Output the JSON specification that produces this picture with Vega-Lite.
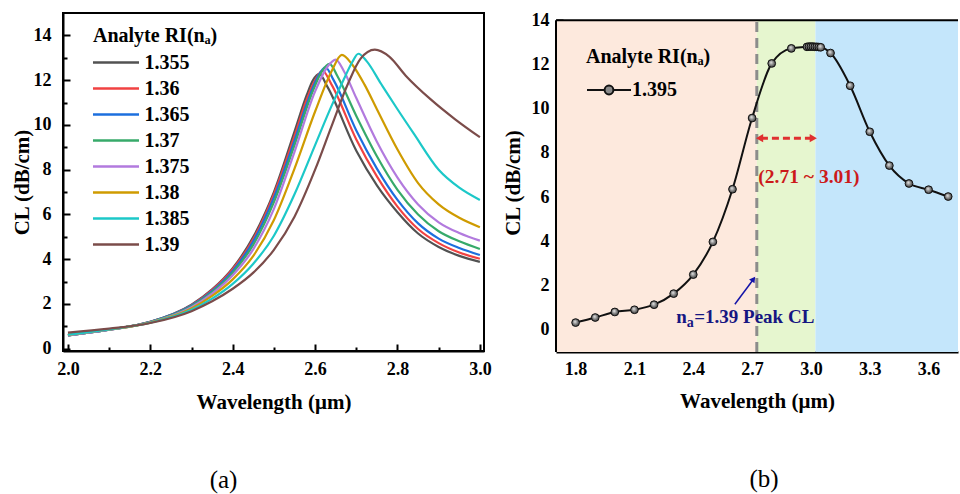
{
  "$schema": "https://vega.github.io/schema/vega-lite/v6.json",
  "padding": {"left": 10, "top": 11, "right": 0, "bottom": 0},
  "background": "white",
  "config": {
    "font": "Liberation Serif",
    "axis": {"labelFont": "Liberation Serif", "labelFontWeight": "bold", "labelFontSize": 18, "labelColor": "black", "titleFont": "Liberation Serif", "titleFontWeight": "bold", "titleFontSize": 21, "titleColor": "black", "domainColor": "black", "domainWidth": 2, "tickColor": "black", "tickWidth": 2, "grid": false, "labelFlush": false, "labelOverlap": false},
    "legend": {"padding": 0, "titleFont": "Liberation Serif", "titleFontWeight": "bold", "titleFontSize": 20, "titleColor": "black", "labelFont": "Liberation Serif", "labelFontWeight": "bold", "labelFontSize": 20, "labelColor": "black", "titleLimit": 300},
    "view": {"stroke": "black", "strokeWidth": 2},
    "concat": {"spacing": 9},
    "title": {"font": "Liberation Serif", "fontWeight": "normal", "fontSize": 25, "color": "black"}
  },
  "datasets": {
    "b": [
      {"s": "1.395", "w": 1.8, "cl": 0.33}, {"s": "1.395", "w": 1.9, "cl": 0.56}, {"s": "1.395", "w": 2.0, "cl": 0.81}, {"s": "1.395", "w": 2.1, "cl": 0.91}, {"s": "1.395", "w": 2.2, "cl": 1.14}, {"s": "1.395", "w": 2.3, "cl": 1.64}, {"s": "1.395", "w": 2.4, "cl": 2.5}, {"s": "1.395", "w": 2.5, "cl": 3.98}, {"s": "1.395", "w": 2.6, "cl": 6.36}, {"s": "1.395", "w": 2.7, "cl": 9.58}, {"s": "1.395", "w": 2.8, "cl": 12.05}, {"s": "1.395", "w": 2.9, "cl": 12.73}, {"s": "1.395", "w": 2.98, "cl": 12.8}, {"s": "1.395", "w": 2.99, "cl": 12.81}, {"s": "1.395", "w": 3.0, "cl": 12.81}, {"s": "1.395", "w": 3.01, "cl": 12.81}, {"s": "1.395", "w": 3.02, "cl": 12.8}, {"s": "1.395", "w": 3.03, "cl": 12.8}, {"s": "1.395", "w": 3.04, "cl": 12.79}, {"s": "1.395", "w": 3.05, "cl": 12.78}, {"s": "1.395", "w": 3.1, "cl": 12.52}, {"s": "1.395", "w": 3.2, "cl": 11.04}, {"s": "1.395", "w": 3.3, "cl": 8.96}, {"s": "1.395", "w": 3.4, "cl": 7.43}, {"s": "1.395", "w": 3.5, "cl": 6.62}, {"s": "1.395", "w": 3.6, "cl": 6.34}, {"s": "1.395", "w": 3.7, "cl": 6.03}
    ],
    "note": [{"x": 2.405, "y": 0.6, "n": "n", "sub": "a", "t": "=1.39 Peak CL"}]
  },
  "resolve": {"scale": {"color": "independent", "stroke": "independent"}, "legend": {"color": "independent", "stroke": "independent"}},
  "hconcat": [
    {
      "width": 421,
      "height": 338,
      "title": {"text": "(a)", "orient": "bottom", "offset": 56, "dx": -50},
      "data": {"values": [
        {"na": "1.355", "w": 2.0, "cl": 0.6}, {"na": "1.355", "w": 2.1, "cl": 0.85}, {"na": "1.355", "w": 2.2, "cl": 1.2}, {"na": "1.355", "w": 2.3, "cl": 1.97}, {"na": "1.355", "w": 2.35, "cl": 2.65}, {"na": "1.355", "w": 2.4, "cl": 3.6}, {"na": "1.355", "w": 2.45, "cl": 5.0}, {"na": "1.355", "w": 2.5, "cl": 7.0}, {"na": "1.355", "w": 2.55, "cl": 9.7}, {"na": "1.355", "w": 2.58, "cl": 11.35}, {"na": "1.355", "w": 2.595, "cl": 12.0}, {"na": "1.355", "w": 2.61, "cl": 12.28}, {"na": "1.355", "w": 2.63, "cl": 11.7}, {"na": "1.355", "w": 2.7, "cl": 8.85}, {"na": "1.355", "w": 2.75, "cl": 7.3}, {"na": "1.355", "w": 2.8, "cl": 6.1}, {"na": "1.355", "w": 2.85, "cl": 5.15}, {"na": "1.355", "w": 2.9, "cl": 4.55}, {"na": "1.355", "w": 2.95, "cl": 4.15}, {"na": "1.355", "w": 3.0, "cl": 3.88},
        {"na": "1.36", "w": 2.0, "cl": 0.6}, {"na": "1.36", "w": 2.1, "cl": 0.85}, {"na": "1.36", "w": 2.2, "cl": 1.2}, {"na": "1.36", "w": 2.3, "cl": 1.95}, {"na": "1.36", "w": 2.35, "cl": 2.62}, {"na": "1.36", "w": 2.4, "cl": 3.55}, {"na": "1.36", "w": 2.45, "cl": 4.9}, {"na": "1.36", "w": 2.5, "cl": 6.9}, {"na": "1.36", "w": 2.55, "cl": 9.5}, {"na": "1.36", "w": 2.58, "cl": 11.15}, {"na": "1.36", "w": 2.6, "cl": 12.0}, {"na": "1.36", "w": 2.618, "cl": 12.42}, {"na": "1.36", "w": 2.64, "cl": 11.8}, {"na": "1.36", "w": 2.7, "cl": 9.35}, {"na": "1.36", "w": 2.75, "cl": 7.7}, {"na": "1.36", "w": 2.8, "cl": 6.35}, {"na": "1.36", "w": 2.85, "cl": 5.35}, {"na": "1.36", "w": 2.9, "cl": 4.72}, {"na": "1.36", "w": 2.95, "cl": 4.3}, {"na": "1.36", "w": 3.0, "cl": 4.02},
        {"na": "1.365", "w": 2.0, "cl": 0.6}, {"na": "1.365", "w": 2.1, "cl": 0.85}, {"na": "1.365", "w": 2.2, "cl": 1.2}, {"na": "1.365", "w": 2.3, "cl": 1.93}, {"na": "1.365", "w": 2.35, "cl": 2.58}, {"na": "1.365", "w": 2.4, "cl": 3.48}, {"na": "1.365", "w": 2.45, "cl": 4.8}, {"na": "1.365", "w": 2.5, "cl": 6.75}, {"na": "1.365", "w": 2.55, "cl": 9.3}, {"na": "1.365", "w": 2.58, "cl": 10.95}, {"na": "1.365", "w": 2.605, "cl": 12.1}, {"na": "1.365", "w": 2.625, "cl": 12.57}, {"na": "1.365", "w": 2.645, "cl": 12.0}, {"na": "1.365", "w": 2.7, "cl": 9.75}, {"na": "1.365", "w": 2.75, "cl": 8.05}, {"na": "1.365", "w": 2.8, "cl": 6.65}, {"na": "1.365", "w": 2.85, "cl": 5.6}, {"na": "1.365", "w": 2.9, "cl": 4.92}, {"na": "1.365", "w": 2.95, "cl": 4.5}, {"na": "1.365", "w": 3.0, "cl": 4.19},
        {"na": "1.37", "w": 2.0, "cl": 0.6}, {"na": "1.37", "w": 2.1, "cl": 0.85}, {"na": "1.37", "w": 2.2, "cl": 1.19}, {"na": "1.37", "w": 2.3, "cl": 1.9}, {"na": "1.37", "w": 2.35, "cl": 2.53}, {"na": "1.37", "w": 2.4, "cl": 3.4}, {"na": "1.37", "w": 2.45, "cl": 4.65}, {"na": "1.37", "w": 2.5, "cl": 6.55}, {"na": "1.37", "w": 2.55, "cl": 9.1}, {"na": "1.37", "w": 2.59, "cl": 11.3}, {"na": "1.37", "w": 2.615, "cl": 12.35}, {"na": "1.37", "w": 2.635, "cl": 12.73}, {"na": "1.37", "w": 2.655, "cl": 12.15}, {"na": "1.37", "w": 2.7, "cl": 10.4}, {"na": "1.37", "w": 2.75, "cl": 8.6}, {"na": "1.37", "w": 2.8, "cl": 7.1}, {"na": "1.37", "w": 2.85, "cl": 6.0}, {"na": "1.37", "w": 2.9, "cl": 5.25}, {"na": "1.37", "w": 2.95, "cl": 4.8}, {"na": "1.37", "w": 3.0, "cl": 4.46},
        {"na": "1.375", "w": 2.0, "cl": 0.6}, {"na": "1.375", "w": 2.1, "cl": 0.85}, {"na": "1.375", "w": 2.2, "cl": 1.18}, {"na": "1.375", "w": 2.3, "cl": 1.86}, {"na": "1.375", "w": 2.35, "cl": 2.46}, {"na": "1.375", "w": 2.4, "cl": 3.28}, {"na": "1.375", "w": 2.45, "cl": 4.45}, {"na": "1.375", "w": 2.5, "cl": 6.25}, {"na": "1.375", "w": 2.55, "cl": 8.8}, {"na": "1.375", "w": 2.6, "cl": 11.5}, {"na": "1.375", "w": 2.63, "cl": 12.6}, {"na": "1.375", "w": 2.65, "cl": 12.92}, {"na": "1.375", "w": 2.67, "cl": 12.4}, {"na": "1.375", "w": 2.7, "cl": 11.2}, {"na": "1.375", "w": 2.75, "cl": 9.25}, {"na": "1.375", "w": 2.8, "cl": 7.65}, {"na": "1.375", "w": 2.85, "cl": 6.45}, {"na": "1.375", "w": 2.9, "cl": 5.65}, {"na": "1.375", "w": 2.95, "cl": 5.17}, {"na": "1.375", "w": 3.0, "cl": 4.83},
        {"na": "1.38", "w": 2.0, "cl": 0.62}, {"na": "1.38", "w": 2.1, "cl": 0.86}, {"na": "1.38", "w": 2.2, "cl": 1.17}, {"na": "1.38", "w": 2.3, "cl": 1.8}, {"na": "1.38", "w": 2.35, "cl": 2.36}, {"na": "1.38", "w": 2.4, "cl": 3.1}, {"na": "1.38", "w": 2.45, "cl": 4.15}, {"na": "1.38", "w": 2.5, "cl": 5.75}, {"na": "1.38", "w": 2.55, "cl": 8.05}, {"na": "1.38", "w": 2.6, "cl": 10.6}, {"na": "1.38", "w": 2.64, "cl": 12.4}, {"na": "1.38", "w": 2.665, "cl": 13.13}, {"na": "1.38", "w": 2.69, "cl": 12.7}, {"na": "1.38", "w": 2.72, "cl": 11.8}, {"na": "1.38", "w": 2.75, "cl": 10.7}, {"na": "1.38", "w": 2.8, "cl": 8.9}, {"na": "1.38", "w": 2.85, "cl": 7.4}, {"na": "1.38", "w": 2.9, "cl": 6.45}, {"na": "1.38", "w": 2.95, "cl": 5.85}, {"na": "1.38", "w": 3.0, "cl": 5.43},
        {"na": "1.385", "w": 2.0, "cl": 0.63}, {"na": "1.385", "w": 2.1, "cl": 0.87}, {"na": "1.385", "w": 2.2, "cl": 1.16}, {"na": "1.385", "w": 2.3, "cl": 1.74}, {"na": "1.385", "w": 2.35, "cl": 2.24}, {"na": "1.385", "w": 2.4, "cl": 2.9}, {"na": "1.385", "w": 2.45, "cl": 3.8}, {"na": "1.385", "w": 2.5, "cl": 5.05}, {"na": "1.385", "w": 2.55, "cl": 6.9}, {"na": "1.385", "w": 2.6, "cl": 9.1}, {"na": "1.385", "w": 2.64, "cl": 10.85}, {"na": "1.385", "w": 2.67, "cl": 12.05}, {"na": "1.385", "w": 2.69, "cl": 12.8}, {"na": "1.385", "w": 2.705, "cl": 13.18}, {"na": "1.385", "w": 2.725, "cl": 12.85}, {"na": "1.385", "w": 2.76, "cl": 11.84}, {"na": "1.385", "w": 2.8, "cl": 10.7}, {"na": "1.385", "w": 2.84, "cl": 9.6}, {"na": "1.385", "w": 2.9, "cl": 8.0}, {"na": "1.385", "w": 2.95, "cl": 7.2}, {"na": "1.385", "w": 3.0, "cl": 6.65},
        {"na": "1.39", "w": 2.0, "cl": 0.72}, {"na": "1.39", "w": 2.1, "cl": 0.9}, {"na": "1.39", "w": 2.2, "cl": 1.15}, {"na": "1.39", "w": 2.3, "cl": 1.68}, {"na": "1.39", "w": 2.35, "cl": 2.12}, {"na": "1.39", "w": 2.4, "cl": 2.68}, {"na": "1.39", "w": 2.45, "cl": 3.4}, {"na": "1.39", "w": 2.5, "cl": 4.42}, {"na": "1.39", "w": 2.55, "cl": 5.9}, {"na": "1.39", "w": 2.6, "cl": 8.0}, {"na": "1.39", "w": 2.64, "cl": 9.95}, {"na": "1.39", "w": 2.68, "cl": 11.85}, {"na": "1.39", "w": 2.71, "cl": 12.95}, {"na": "1.39", "w": 2.745, "cl": 13.36}, {"na": "1.39", "w": 2.78, "cl": 13.05}, {"na": "1.39", "w": 2.82, "cl": 12.2}, {"na": "1.39", "w": 2.88, "cl": 11.15}, {"na": "1.39", "w": 2.94, "cl": 10.25}, {"na": "1.39", "w": 3.0, "cl": 9.45}
      ]},
      "layer": [
        {
          "mark": {"type": "line", "strokeWidth": 2.2, "interpolate": "monotone"},
          "encoding": {
            "x": {"field": "w", "type": "quantitative", "scale": {"domain": [1.988, 3.01], "nice": false, "zero": false}, "axis": {"values": [2.0, 2.2, 2.4, 2.6, 2.8, 3.0], "format": ".1f", "title": "Wavelength (μm)", "tickSize": -7, "labelPadding": 16, "titlePadding": 13}},
            "y": {"field": "cl", "type": "quantitative", "scale": {"domain": [-0.1, 15], "nice": false, "zero": false}, "axis": {"values": [0, 2, 4, 6, 8, 10, 12, 14], "title": "CL (dB/cm)", "tickSize": -7, "labelPadding": 19, "titlePadding": 1}},
            "color": {"field": "na", "type": "nominal", "scale": {"domain": ["1.355", "1.36", "1.365", "1.37", "1.375", "1.38", "1.385", "1.39"], "range": ["#525252", "#f14242", "#1c6fde", "#37aa6a", "#b27ade", "#cf9b00", "#1cc8c8", "#7b4c4a"]}, "legend": {"orient": "none", "legendX": 30, "legendY": 13, "title": "Analyte RI(nₐ)", "symbolType": "M-2.5,0H2.5", "symbolSize": 339, "symbolStrokeWidth": 2.5, "symbolOffset": 12.5, "rowPadding": 5, "labelOffset": 18, "titlePadding": 6}}
          }
        },
        {
          "data": {"values": [{"w": 2.5, "cl": 5}]},
          "mark": {"type": "point", "opacity": 0},
          "encoding": {
            "x": {"field": "w", "type": "quantitative", "axis": {"orient": "bottom", "values": [2.1, 2.3, 2.5, 2.7, 2.9], "labels": false, "domain": false, "tickSize": -4, "title": null}},
            "y": {"field": "cl", "type": "quantitative", "axis": {"orient": "left", "values": [1, 3, 5, 7, 9, 11, 13], "labels": false, "domain": false, "tickSize": -4, "title": null}}
          }
        }
      ],
      "resolve": {"axis": {"x": "independent", "y": "independent"}}
    },
    {
      "width": 402,
      "height": 339,
      "view": {"stroke": null},
      "title": {"text": "(b)", "orient": "bottom", "offset": 56, "dx": 7},
      "layer": [
        {
          "data": {"values": [{"x1": 1.7, "x2": 2.724, "lo": -1, "hi": 14, "zone": "low"}, {"x1": 2.724, "x2": 3.023, "lo": -1, "hi": 14, "zone": "peak"}, {"x1": 3.023, "x2": 3.75, "lo": -1, "hi": 14, "zone": "high"}]},
          "mark": {"type": "rect"},
          "encoding": {
            "x": {"field": "x1", "type": "quantitative", "scale": {"domain": [1.7, 3.75], "nice": false, "zero": false}, "axis": null},
            "x2": {"field": "x2"},
            "y": {"field": "lo", "type": "quantitative", "scale": {"domain": [-1, 14.33], "nice": false, "zero": false}, "axis": null},
            "y2": {"field": "hi"},
            "color": {"field": "zone", "type": "nominal", "scale": {"domain": ["low", "peak", "high"], "range": ["#fde9dd", "#e6f6cf", "#c4e6fb"]}, "legend": null}
          }
        },
        {
          "data": {"values": [{"x": 2.724, "lo": -1, "hi": 14}]},
          "mark": {"type": "rule", "color": "#8c8c8c", "strokeWidth": 3, "strokeDash": [10, 6]},
          "encoding": {"x": {"field": "x", "type": "quantitative", "axis": null}, "y": {"field": "lo", "type": "quantitative", "axis": null}, "y2": {"field": "hi"}}
        },
        {
          "data": {"values": [{"x": 1.7, "lo": -1, "hi": 14}]},
          "mark": {"type": "rule", "color": "black", "strokeWidth": 2},
          "encoding": {"x": {"field": "x", "type": "quantitative", "axis": null}, "y": {"field": "lo", "type": "quantitative", "axis": null}, "y2": {"field": "hi"}}
        },
        {
          "data": {"values": [{"a": 1.7, "b": 3.75, "y": 14}]},
          "mark": {"type": "rule", "color": "black", "strokeWidth": 2},
          "encoding": {"x": {"field": "a", "type": "quantitative", "axis": null}, "x2": {"field": "b"}, "y": {"field": "y", "type": "quantitative", "axis": null}}
        },
        {
          "data": {"name": "b"},
          "mark": {"type": "line", "strokeWidth": 2, "interpolate": "monotone"},
          "encoding": {
            "x": {"field": "w", "type": "quantitative", "scale": {"domain": [1.7, 3.75], "nice": false, "zero": false}, "axis": {"values": [1.8, 2.1, 2.4, 2.7, 3.0, 3.3, 3.6], "format": ".1f", "title": "Wavelength (μm)", "tickSize": -7, "labelPadding": 15, "titlePadding": 12}},
            "y": {"field": "cl", "type": "quantitative", "scale": {"domain": [-1, 14.33], "nice": false, "zero": false}, "axis": {"values": [0, 2, 4, 6, 8, 10, 12, 14], "title": "CL (dB/cm)", "tickSize": -7, "labelPadding": 14, "titlePadding": 8, "domain": false}},
            "stroke": {"field": "s", "type": "nominal", "scale": {"range": ["#111111"]}, "legend": {"orient": "none", "legendX": 30, "legendY": 34, "title": "Analyte RI(nₐ)", "symbolType": "M-1,0H-0.2M0.2,0H1M0.2,0A0.2,0.2,0,1,1,-0.2,0A0.2,0.2,0,1,1,0.2,0Z", "symbolSize": 1936, "symbolStrokeWidth": 2, "symbolFillColor": "#8a8a8a", "labelOffset": 0, "titlePadding": 0}}
          }
        },
        {
          "data": {"name": "b"},
          "mark": {"type": "point", "filled": true, "size": 60, "stroke": "#111111", "strokeWidth": 1, "fill": {"gradient": "radial", "x1": 0.4, "y1": 0.35, "r1": 0, "x2": 0.5, "y2": 0.5, "r2": 0.55, "stops": [{"offset": 0, "color": "#f0f0f0"}, {"offset": 0.6, "color": "#777777"}, {"offset": 1, "color": "#333333"}]}, "opacity": 1},
          "encoding": {
            "x": {"field": "w", "type": "quantitative", "axis": null},
            "y": {"field": "cl", "type": "quantitative", "axis": null}
          }
        },
        {
          "data": {"values": [{"a": 2.745, "b": 3.005, "y": 8.67}]},
          "mark": {"type": "rule", "color": "#e03030", "strokeWidth": 3, "strokeDash": [7, 4]},
          "encoding": {
            "x": {"field": "a", "type": "quantitative", "axis": null},
            "x2": {"field": "b"},
            "y": {"field": "y", "type": "quantitative", "axis": null}
          }
        },
        {
          "data": {"values": [{"x": 2.738, "y": 8.67}]},
          "mark": {"type": "point", "shape": "triangle-left", "filled": true, "color": "#e03030", "size": 70, "opacity": 1},
          "encoding": {"x": {"field": "x", "type": "quantitative", "axis": null}, "y": {"field": "y", "type": "quantitative", "axis": null}}
        },
        {
          "data": {"values": [{"x": 3.012, "y": 8.67}]},
          "mark": {"type": "point", "shape": "triangle-right", "filled": true, "color": "#e03030", "size": 70, "opacity": 1},
          "encoding": {"x": {"field": "x", "type": "quantitative", "axis": null}, "y": {"field": "y", "type": "quantitative", "axis": null}}
        },
        {
          "data": {"values": [{"x": 2.732, "y": 6.9, "t": "(2.71 ~ 3.01)"}]},
          "mark": {"type": "text", "align": "left", "baseline": "middle", "font": "Liberation Serif", "fontWeight": "bold", "fontSize": 19.5, "color": "#cc1a1a"},
          "encoding": {"x": {"field": "x", "type": "quantitative", "axis": null}, "y": {"field": "y", "type": "quantitative", "axis": null}, "text": {"field": "t"}}
        },
        {
          "data": {"values": [{"a": 2.612, "b": 2.708, "y": 1.16, "y2": 2.3}]},
          "mark": {"type": "rule", "color": "#1414a8", "strokeWidth": 1.5},
          "encoding": {
            "x": {"field": "a", "type": "quantitative", "axis": null},
            "x2": {"field": "b"},
            "y": {"field": "y", "type": "quantitative", "axis": null},
            "y2": {"field": "y2"}
          }
        },
        {
          "data": {"values": [{"x": 2.707, "y": 2.3}]},
          "mark": {"type": "point", "shape": "triangle-up", "filled": true, "color": "#1414a8", "size": 45, "angle": 36, "opacity": 1},
          "encoding": {"x": {"field": "x", "type": "quantitative", "axis": null}, "y": {"field": "y", "type": "quantitative", "axis": null}}
        },
        {
          "data": {"name": "note"},
          "mark": {"type": "text", "align": "left", "baseline": "middle", "font": "Liberation Serif", "fontWeight": "bold", "fontSize": 19, "color": "#161682"},
          "encoding": {"x": {"field": "x", "type": "quantitative", "axis": null}, "y": {"field": "y", "type": "quantitative", "axis": null}, "text": {"field": "t"}}
        },
        {
          "data": {"name": "note"},
          "mark": {"type": "text", "align": "right", "baseline": "middle", "dx": -0.5, "dy": 6, "font": "Liberation Serif", "fontWeight": "bold", "fontSize": 14, "color": "#161682"},
          "encoding": {"x": {"field": "x", "type": "quantitative", "axis": null}, "y": {"field": "y", "type": "quantitative", "axis": null}, "text": {"field": "sub"}}
        },
        {
          "data": {"name": "note"},
          "mark": {"type": "text", "align": "right", "baseline": "middle", "dx": -7.5, "font": "Liberation Serif", "fontWeight": "bold", "fontSize": 19, "color": "#161682"},
          "encoding": {"x": {"field": "x", "type": "quantitative", "axis": null}, "y": {"field": "y", "type": "quantitative", "axis": null}, "text": {"field": "n"}}
        },
        {
          "data": {"values": [{"w": 2.5, "cl": 5}]},
          "mark": {"type": "point", "opacity": 0},
          "encoding": {
            "x": {"field": "w", "type": "quantitative", "axis": {"orient": "bottom", "values": [1.95, 2.25, 2.55, 2.85, 3.15, 3.45], "labels": false, "domain": false, "tickSize": -4, "title": null}},
            "y": {"field": "cl", "type": "quantitative", "axis": {"orient": "left", "values": [1, 3, 5, 7, 9, 11, 13], "labels": false, "domain": false, "tickSize": -4, "title": null}}
          }
        }
      ],
      "resolve": {"axis": {"x": "independent", "y": "independent"}}
    }
  ]
}
